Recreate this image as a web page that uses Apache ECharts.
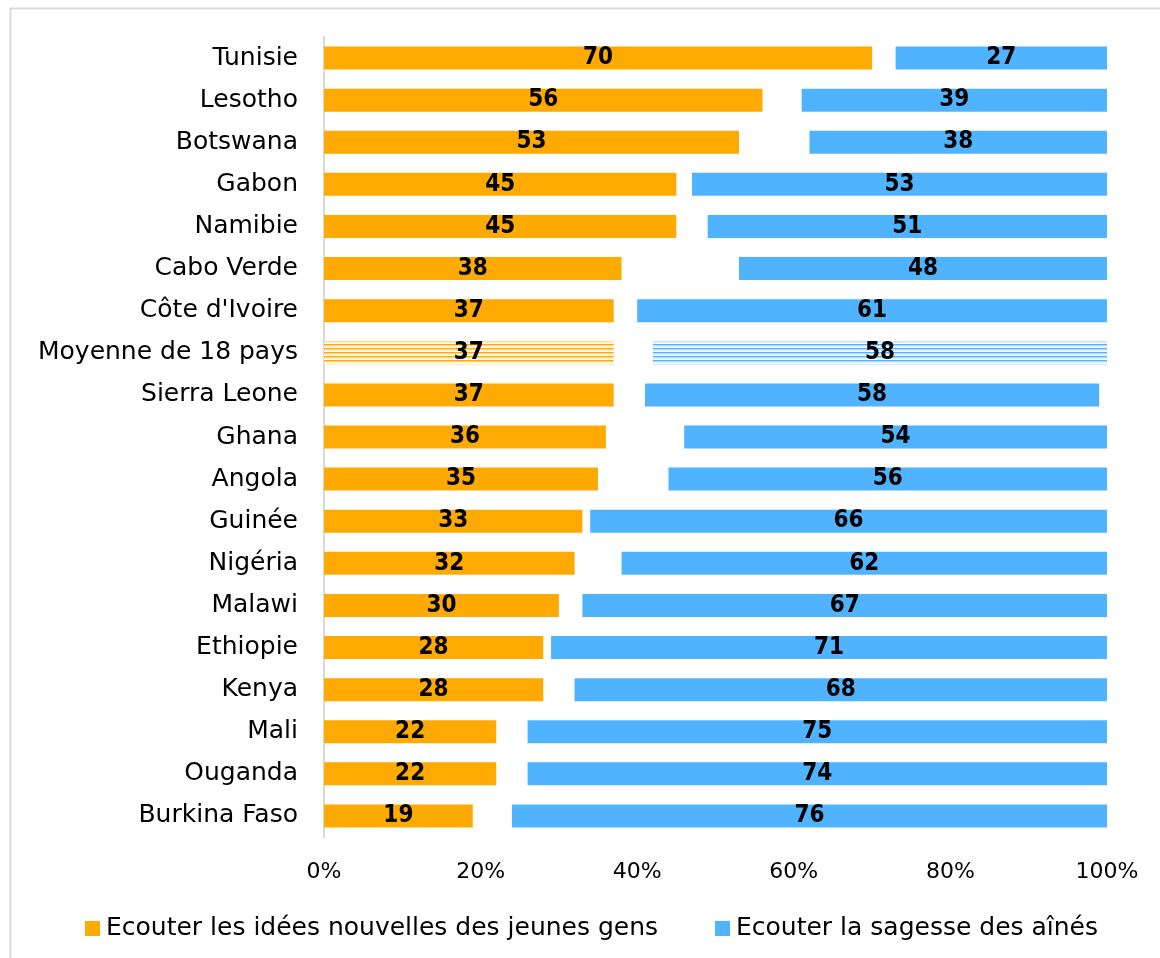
<!DOCTYPE html>
<html>
<head>
<meta charset="utf-8">
<script src="https://cdn.jsdelivr.net/npm/echarts@6/dist/echarts.min.js"></script>
<style>
  html, body { margin: 0; padding: 0; background: #ffffff; }
  #chart { width: 1160px; height: 958px; }
</style>
</head>
<body>
<div id="chart"></div>
<script>
// Countries, top to bottom
const countries = ['Tunisie', 'Lesotho', 'Botswana', 'Gabon', 'Namibie', 'Cabo Verde', "Côte d'Ivoire",
  'Moyenne de 18 pays', 'Sierra Leone', 'Ghana', 'Angola', 'Guinée', 'Nigéria', 'Malawi', 'Ethiopie',
  'Kenya', 'Mali', 'Ouganda', 'Burkina Faso'];
// % who prefer listening to young people's new ideas
const youngIdeas = [70, 56, 53, 45, 45, 38, 37, 37, 37, 36, 35, 33, 32, 30, 28, 28, 22, 22, 19];
// % neither / other answers (empty space between the two bars)
const neither = [3, 5, 9, 2, 4, 15, 3, 5, 4, 10, 9, 1, 6, 3, 1, 4, 4, 4, 5];
// % who prefer listening to the wisdom of elders
const eldersWisdom = [27, 39, 38, 53, 51, 48, 61, 58, 58, 54, 56, 66, 62, 67, 71, 68, 75, 74, 76];
// % no answer (trailing empty space)
const noAnswer = [0, 0, 0, 0, 0, 0, 0, 0, 1, 0, 0, 0, 0, 0, 0, 0, 0, 0, 0];
const xTicks = [0, 20, 40, 60, 80, 100];
const averageLabel = 'Moyenne de 18 pays';
const seriesNames = ['Ecouter les idées nouvelles des jeunes gens', 'Ecouter la sagesse des aînés'];

const ORANGE = '#FFAA00';
const BLUE = '#4FB3FF';
const FONT = 'DejaVu Sans';

// Horizontal-stripe fill used for the average row
function stripes(color, light) {
  const c = document.createElement('canvas');
  c.width = 4; c.height = 4;
  const g = c.getContext('2d');
  g.fillStyle = '#ffffff'; g.fillRect(0, 0, 4, 4);
  g.fillStyle = color; g.fillRect(0, 0, 4, 1.5);
  g.fillStyle = light; g.fillRect(0, 1.5, 4, 1);
  return { image: c, repeat: 'repeat' };
}
const orangeStripe = stripes(ORANGE, '#FFD98A');
const blueStripe = stripes(BLUE, '#B5DDFF');

function withAverage(values, pattern) {
  return values.map((v, i) => countries[i] === averageLabel ? { value: v, itemStyle: { color: pattern } } : v);
}

const valueLabel = {
  show: true, position: 'inside', color: '#000000', fontFamily: 'DejaVu Sans Condensed',
  fontWeight: 'bold', fontSize: 24, formatter: p => p.value
};

const legendText = { fontFamily: FONT, fontSize: 25, color: '#000000', padding: [0, 0, 0, 1] };

const chart = echarts.init(document.getElementById('chart'));
chart.setOption({
  animation: false,
  graphic: [{
    type: 'rect', shape: { x: 10.5, y: 8.5, width: 1200, height: 1000 },
    style: { fill: 'none', stroke: '#d9d9d9', lineWidth: 2 }, silent: true
  }],
  grid: { left: 324, right: 53, top: 37, bottom: 121 },
  legend: [
    { data: [seriesNames[0]], left: 85, top: 916, padding: 0, itemWidth: 15, itemHeight: 15, icon: 'rect', textStyle: legendText },
    { data: [seriesNames[1]], left: 715, top: 916, padding: 0, itemWidth: 15, itemHeight: 15, icon: 'rect', textStyle: legendText }
  ],
  xAxis: {
    type: 'value', min: xTicks[0], max: xTicks[xTicks.length - 1], interval: xTicks[1] - xTicks[0],
    axisLine: { show: false }, axisTick: { show: false }, splitLine: { show: false },
    axisLabel: { formatter: '{value}%', fontFamily: FONT, fontSize: 22, color: '#000000', margin: 24 }
  },
  yAxis: {
    type: 'category', data: countries, inverse: true,
    axisLine: { show: true, lineStyle: { color: '#d9d9d9', width: 2 } },
    axisTick: { show: false },
    axisLabel: { fontFamily: FONT, fontSize: 25, color: '#000000', margin: 26 }
  },
  series: [
    { name: seriesNames[0], type: 'bar', stack: 'all', barWidth: 23,
      itemStyle: { color: ORANGE }, label: valueLabel, data: withAverage(youngIdeas, orangeStripe) },
    { name: 'Ni l\'un ni l\'autre', type: 'bar', stack: 'all', silent: true,
      itemStyle: { color: 'transparent' }, data: neither },
    { name: seriesNames[1], type: 'bar', stack: 'all',
      itemStyle: { color: BLUE }, label: valueLabel, data: withAverage(eldersWisdom, blueStripe) },
    { name: 'Sans réponse', type: 'bar', stack: 'all', silent: true,
      itemStyle: { color: 'transparent' }, data: noAnswer }
  ]
});
</script>
</body>
</html>
